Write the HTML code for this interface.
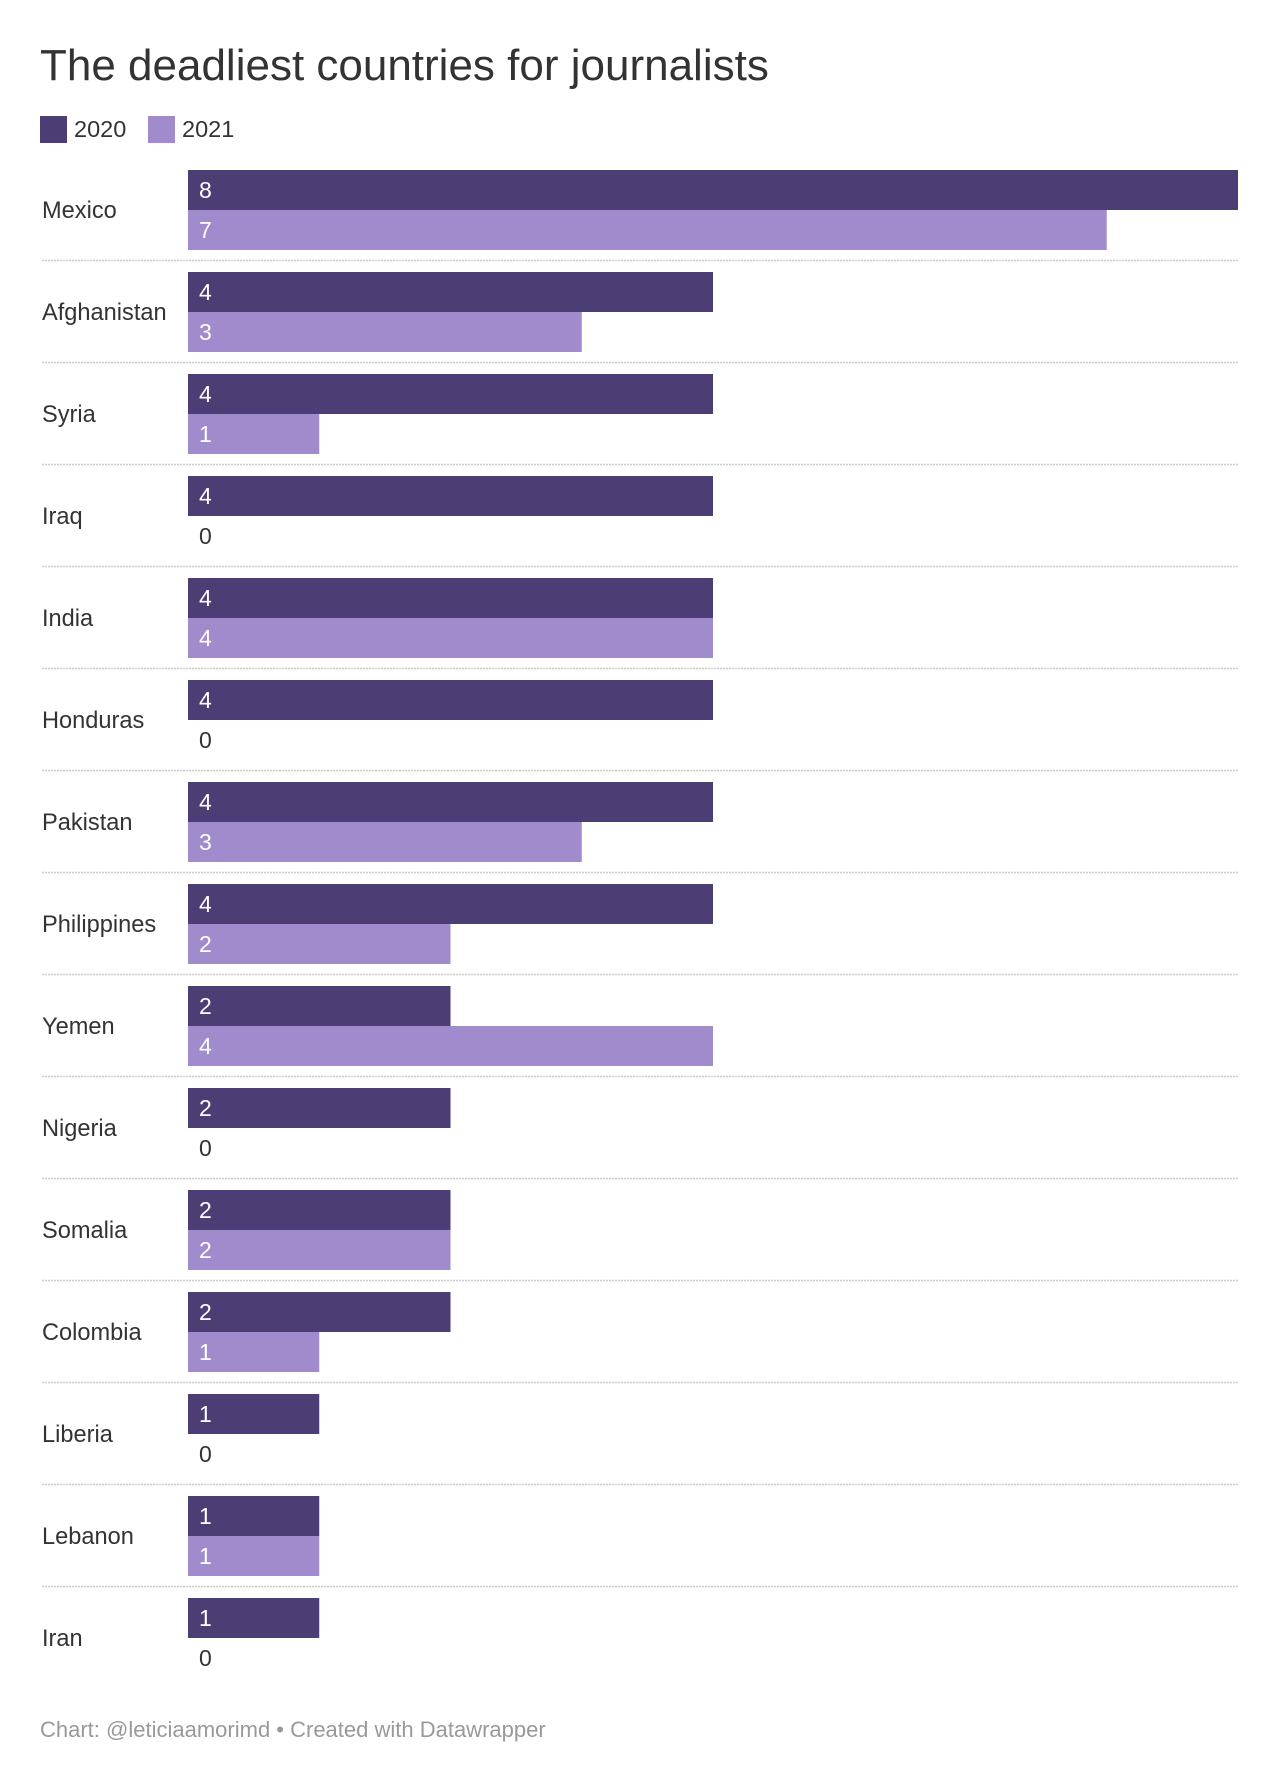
<!DOCTYPE html>
<html><head><meta charset="utf-8"><style>
body{margin:0;background:#fff;width:1280px;height:1784px;overflow:hidden;font-family:"Liberation Sans",Arial,sans-serif;}
#title{position:absolute;left:40px;top:41px;font-size:44px;color:#333;margin:0;font-weight:normal;}
.leg{position:absolute;top:116px;height:27px;font-size:23.5px;color:#333;line-height:27px;}
.sw{display:inline-block;width:27px;height:27px;vertical-align:top;margin-right:7px;}
#footer{position:absolute;left:40px;top:1717px;font-size:22px;color:#999;}
</style></head><body>
<h1 id="title">The deadliest countries for journalists</h1>
<div class="leg" style="left:40px"><span class="sw" style="background:#4c3d75"></span>2020</div>
<div class="leg" style="left:148px"><span class="sw" style="background:#a08ccc"></span>2021</div>
<svg id="chart" width="1280" height="1784" style="position:absolute;left:0;top:0"></svg>
<div id="footer">Chart: @leticiaamorimd • Created with Datawrapper</div>
<script>
const categories=["Mexico","Afghanistan","Syria","Iraq","India","Honduras","Pakistan","Philippines","Yemen","Nigeria","Somalia","Colombia","Liberia","Lebanon","Iran"];
const values2020=[8,4,4,4,4,4,4,4,2,2,2,2,1,1,1];
const values2021=[7,3,1,0,4,0,3,2,4,0,2,1,0,1,0];
const maxValue=8;
const svg=document.getElementById('chart');
const NS='http://www.w3.org/2000/svg';
const x0=188,x1=1238,top0=170,pitch=102,bh=40;
function xScale(v){return x0+(x1-x0)*v/maxValue;}
function mk(tag,attrs){const e=document.createElementNS(NS,tag);for(const k in attrs)e.setAttribute(k,attrs[k]);svg.appendChild(e);return e;}
categories.forEach((c,i)=>{
  const y=top0+pitch*i;
  const lab=mk('text',{x:42,y:y+bh+8,'font-size':23.6,fill:'#333','font-family':'Liberation Sans, sans-serif'});
  lab.textContent=c;
  
  
  [[values2020[i],'#4c3d75',y,'2020'],[values2021[i],'#a08ccc',y+bh,'2021']].forEach(([v,col,by,yr])=>{
    if(v>0){
      const r=mk('rect',{x:x0,y:by,width:xScale(v)-x0,height:bh,fill:col});
      
      
    }
    const t=mk('text',{x:x0+11,y:by+28,'font-size':23,fill:v>0?'#fff':'#333','font-family':'Liberation Sans, sans-serif'});
    t.textContent=v;
    
    
  });
  if(i<categories.length-1){
    const l=mk('line',{x1:42,x2:x1,y1:y+90.5,y2:y+90.5,stroke:'#ccc','stroke-width':1.5,'stroke-dasharray':'2,1'});
    
    
  }
});
</script>
</body></html>
